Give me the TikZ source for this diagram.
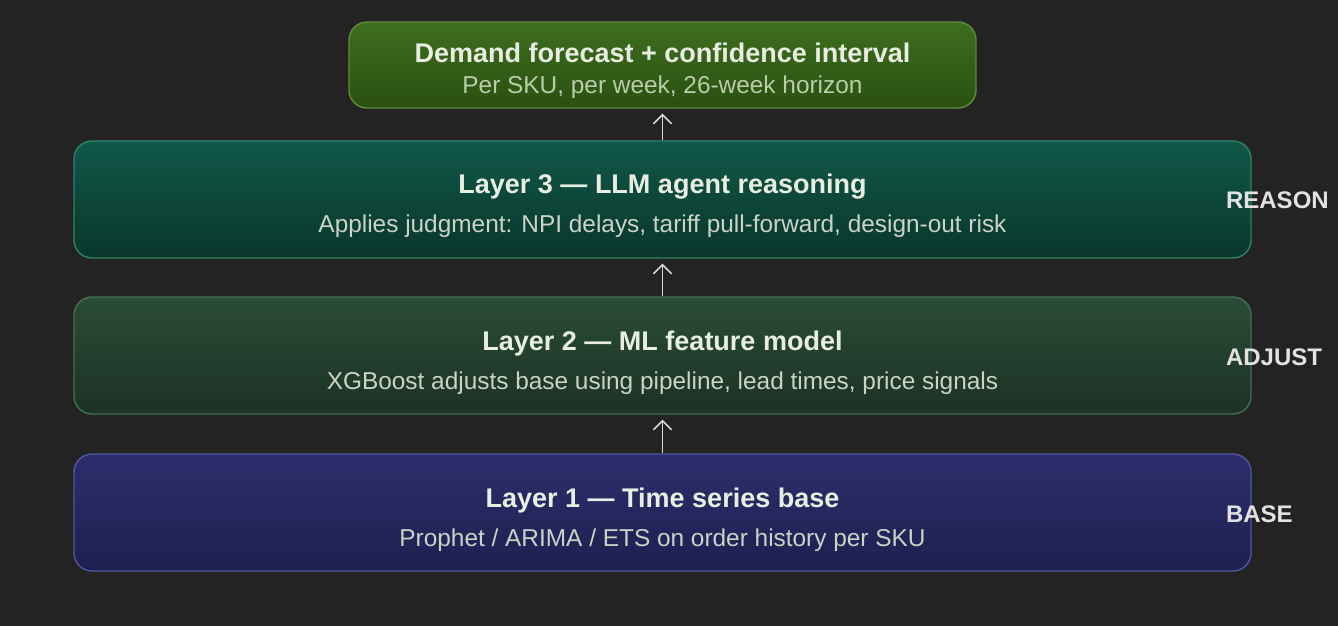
\documentclass[tikz,border=0pt]{standalone}
\usepackage{fontspec}
\setmainfont{Liberation Sans}
\usetikzlibrary{arrows.meta}
\definecolor{bgcol}{HTML}{232323}
\definecolor{titlecol}{HTML}{E8EEE2}
\definecolor{subcol}{HTML}{C9D3C6}
\definecolor{labelcol}{HTML}{E2E2E2}
\definecolor{arrowcol}{HTML}{D8D8D8}
\begin{document}
\begin{tikzpicture}[
				x=0.5pt, y=-0.5pt,
				layerbox/.style={rounded corners=9pt, line width=0.7pt, minimum width=588.5pt, minimum height=58.5pt, align=center, inner sep=0},
				boxtitle/.style={font=\fontsize{13.5}{16}\selectfont\bfseries, text=titlecol},
				boxsub/.style={font=\fontsize{12.2}{14}\selectfont, text=subcol},
				sidelabel/.style={anchor=west, font=\fontsize{12}{14}\selectfont\bfseries, text=labelcol},
				uparrow/.style={draw=arrowcol, line width=0.8pt, -{Straight Barb[length=4.5pt, width=9pt]}, shorten >=2.5pt},
			]
			\fill[bgcol] (0,0) rectangle (1338,626);
			% output
			\node[layerbox, minimum width=313.5pt, minimum height=43pt, draw={rgb,255:red,92;green,140;blue,60}, top color={rgb,255:red,62;green,110;blue,30}, bottom color={rgb,255:red,42;green,80;blue,17}] (forecast) at (662.5,65) {};
			\node[boxtitle] (forecasttitle) at (662.5,53) {Demand forecast + confidence interval};
			\node[boxsub, text={rgb,255:red,185;green,204;blue,172}] (forecastsub) at (662.5,87) {Per SKU, per week, 26-week horizon};
			% layers
			\node[layerbox, draw={rgb,255:red,44;green,130;blue,106}, top color={rgb,255:red,16;green,88;blue,72}, bottom color={rgb,255:red,10;green,54;blue,44}] (layer3) at (662.5,199.5) {};
			\node[boxtitle] (layer3title) at (662.5,187) {Layer 3 — LLM agent reasoning};
			\node[boxsub] (layer3sub) at (662.5,226) {Applies judgment: NPI delays, tariff pull-forward, design-out risk};
			\node[layerbox, draw={rgb,255:red,66;green,112;blue,82}, top color={rgb,255:red,42;green,76;blue,56}, bottom color={rgb,255:red,28;green,50;blue,36}] (layer2) at (662.5,355.5) {};
			\node[boxtitle] (layer2title) at (662.5,344) {Layer 2 — ML feature model};
			\node[boxsub] (layer2sub) at (662.5,383) {XGBoost adjusts base using pipeline, lead times, price signals};
			\node[layerbox, draw={rgb,255:red,84;green,84;blue,160}, top color={rgb,255:red,44;green,46;blue,108}, bottom color={rgb,255:red,30;green,32;blue,80}] (layer1) at (662.5,512.5) {};
			\node[boxtitle] (layer1title) at (662.5,501) {Layer 1 — Time series base};
			\node[boxsub] (layer1sub) at (662.5,540) {Prophet / ARIMA / ETS on order history per SKU};
			% side labels
			\node[sidelabel] (reason) at (1219,200) {REASON};
			\node[sidelabel] (adjust) at (1219,357) {ADJUST};
			\node[sidelabel] (base) at (1219,514) {BASE};
			% arrows
			\draw[uparrow] (layer3.north) -- (forecast.south);
			\draw[uparrow] (layer2.north) -- (layer3.south);
			\draw[uparrow] (layer1.north) -- (layer2.south);
			\end{tikzpicture}
\end{document}
